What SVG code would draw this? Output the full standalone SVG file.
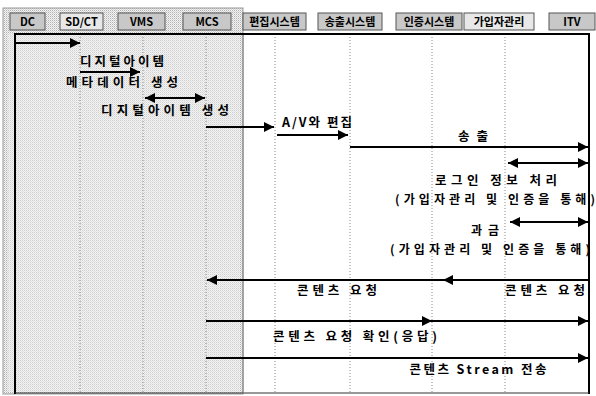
<svg xmlns="http://www.w3.org/2000/svg" width="596" height="396" viewBox="0 0 596 396">
<defs>
<marker id="ah" viewBox="0 0 10 10" refX="10" refY="5" markerWidth="11" markerHeight="10" markerUnits="userSpaceOnUse" orient="auto-start-reverse"><path d="M0,0 L10,5 L0,10 z" fill="#000"/></marker>
<pattern id="dith" width="2" height="2" patternUnits="userSpaceOnUse"><rect width="2" height="2" fill="#f4f4f4"/><rect width="1" height="1" fill="#b0b0b0"/><rect x="1" y="1" width="1" height="1" fill="#d4d4d4"/></pattern>
</defs>
<style>
text{font-family:"Noto Sans CJK KR","DejaVu Sans",sans-serif;font-size:12.5px;fill:#000;font-weight:bold}
.h{font-size:11px}
.s{font-size:12px}
.hb{fill:#c8c8c8;stroke:#555;stroke-width:1}
.life{stroke:#888;stroke-width:1;stroke-dasharray:1 2;fill:none}
.msg{stroke:#000;stroke-width:2;fill:none}
.frame{stroke:#000;stroke-width:2;fill:none}
</style>
<rect width="596" height="396" fill="#fff"/>
<rect x="3" y="8" width="240" height="386" fill="url(#dith)" stroke="#999" stroke-width="1"/>
<rect x="8" y="34" width="232" height="358" fill="#f0f0f0" opacity="0.5"/>
<g id="lifelines">
<line class="life" x1="80" y1="34" x2="80" y2="392"/>
<line class="life" x1="143" y1="34" x2="143" y2="392"/>
<line class="life" x1="206" y1="34" x2="206" y2="392" stroke="#555"/>
<line x1="243" y1="34" x2="243" y2="392" stroke="#999" stroke-width="1.5"/>
<line class="life" x1="275" y1="34" x2="275" y2="392"/>
<line class="life" x1="350" y1="34" x2="350" y2="392"/>
<line class="life" x1="432" y1="34" x2="432" y2="392"/>
<line class="life" x1="505" y1="34" x2="505" y2="392"/>
</g>
<g id="frame">
<path class="frame" d="M15,34 H589 M15,33 V394 M589,33 V394"/>
<line x1="15" y1="393" x2="589" y2="393" stroke="#333" stroke-width="1"/>
</g>
<g id="DC"><rect class="hb" x="10" y="13" width="35" height="17"/><text class="h" x="27.5" y="26" text-anchor="middle">DC</text></g>
<g id="SDCT"><rect class="hb" x="60" y="13" width="43" height="17" style="fill:#e8e8e8"/><text class="h" x="81.5" y="26" text-anchor="middle">SD/CT</text></g>
<g id="VMS"><rect class="hb" x="118" y="13" width="47" height="17"/><text class="h" x="141.5" y="26" text-anchor="middle">VMS</text></g>
<g id="MCS"><rect class="hb" x="183" y="13" width="48" height="17"/><text class="h" x="207" y="26" text-anchor="middle">MCS</text></g>
<g id="edit"><rect class="hb" x="243" y="13" width="63" height="17"/><text class="h" x="274.5" y="26" text-anchor="middle">편집시스템</text></g>
<g id="send"><rect class="hb" x="318" y="13" width="64" height="17"/><text class="h" x="350" y="26" text-anchor="middle">송출시스템</text></g>
<g id="auth"><rect class="hb" x="396" y="13" width="66" height="17"/><text class="h" x="429" y="26" text-anchor="middle">인증시스템</text></g>
<g id="member"><rect class="hb" x="464" y="13" width="70" height="17" style="fill:#e8e8e8"/><text class="h" x="499" y="26" text-anchor="middle">가입자관리</text></g>
<g id="ITV"><rect class="hb" x="549" y="13" width="46" height="17"/><text class="h" x="572" y="26" text-anchor="middle">ITV</text></g>
<g id="connectors">
<line class="msg" x1="15" y1="43" x2="80" y2="43" marker-end="url(#ah)"/>
<line class="msg" x1="80" y1="72" x2="140" y2="72" marker-end="url(#ah)"/>
<line class="msg" x1="145" y1="98" x2="205" y2="98" marker-start="url(#ah)" marker-end="url(#ah)"/>
<line class="msg" x1="206" y1="127" x2="274" y2="127" marker-end="url(#ah)"/>
<line class="msg" x1="277" y1="135" x2="348" y2="135" marker-end="url(#ah)"/>
<line class="msg" x1="350" y1="147" x2="588" y2="147" marker-end="url(#ah)"/>
<line class="msg" x1="508" y1="163" x2="588" y2="163" marker-start="url(#ah)" marker-end="url(#ah)"/>
<line class="msg" x1="510" y1="222" x2="588" y2="222" marker-start="url(#ah)" marker-end="url(#ah)"/>
<path class="msg" d="M588,280 L443,280 L207,280" marker-mid="url(#ah)" marker-end="url(#ah)"/>
<path class="msg" d="M206,321 L432,321 L588,321" marker-mid="url(#ah)" marker-end="url(#ah)"/>
<line class="msg" x1="206" y1="358" x2="588" y2="358" marker-end="url(#ah)"/>
</g>
<g id="labels">
<text x="122" y="66" text-anchor="middle" textLength="84" lengthAdjust="spacing">디지털아이템</text>
<text x="122" y="87" text-anchor="middle" textLength="112" lengthAdjust="spacing">메타데이터 생성</text>
<text x="165" y="115" text-anchor="middle" textLength="128" lengthAdjust="spacing">디지털아이템 생성</text>
<text x="317" y="127" text-anchor="middle" textLength="70" lengthAdjust="spacing">A/V와 편집</text>
<text x="473" y="141" text-anchor="middle" textLength="30" lengthAdjust="spacing">송출</text>
<text x="496" y="185" text-anchor="middle" textLength="122" lengthAdjust="spacing">로그인 정보 처리</text>
<text class="s" x="495" y="204" text-anchor="middle" textLength="200" lengthAdjust="spacing">(가입자관리 및 인증을 통해)</text>
<text class="s" x="485" y="235" text-anchor="middle" textLength="28" lengthAdjust="spacing">과금</text>
<text class="s" x="490" y="254" text-anchor="middle" textLength="200" lengthAdjust="spacing">(가입자관리 및 인증을 통해)</text>
<text x="337" y="295" text-anchor="middle" textLength="80" lengthAdjust="spacing">콘텐츠 요청</text>
<text x="545" y="295" text-anchor="middle" textLength="80" lengthAdjust="spacing">콘텐츠 요청</text>
<text x="355" y="341" text-anchor="middle" textLength="164" lengthAdjust="spacing">콘텐츠 요청 확인(응답)</text>
<text x="478" y="374" text-anchor="middle" textLength="137" lengthAdjust="spacing">콘텐츠 Stream 전송</text>
</g>
</svg>
